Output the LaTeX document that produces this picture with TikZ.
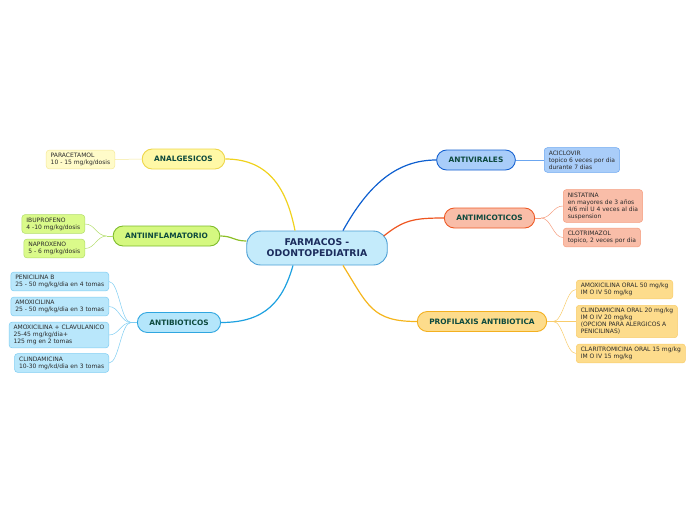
\documentclass[tikz,border=0pt]{standalone}
\usepackage{fontspec}
\setmainfont{DejaVu Sans}
\usetikzlibrary{calc}

% colores del mapa
\definecolor{txtRama}{HTML}{0D4A3E}
\definecolor{txtCentro}{HTML}{1A2B5C}
\definecolor{txtHoja}{HTML}{2A2A2A}
\definecolor{cenF}{HTML}{C4EBFB}\definecolor{cenB}{HTML}{4B9FD5}
\definecolor{amaF}{HTML}{FFF8A6}\definecolor{amaB}{HTML}{EED64A}\definecolor{amaL}{HTML}{F0D21E}
\definecolor{amaH}{HTML}{FFFBC9}\definecolor{amaHB}{HTML}{F5E99A}
\definecolor{verF}{HTML}{D5F880}\definecolor{verB}{HTML}{7DBB2A}\definecolor{verL}{HTML}{8CBF26}
\definecolor{verH}{HTML}{DAFA8A}\definecolor{verHB}{HTML}{B2DD6A}
\definecolor{celF}{HTML}{B4E6FB}\definecolor{celB}{HTML}{2FA6E0}\definecolor{celL}{HTML}{1EA1E0}
\definecolor{celH}{HTML}{B9E7FB}\definecolor{celHB}{HTML}{7ECDF2}
\definecolor{azuF}{HTML}{A9CDF9}\definecolor{azuB}{HTML}{1460D0}\definecolor{azuL}{HTML}{0E5FD0}
\definecolor{azuH}{HTML}{A9CDF9}\definecolor{azuHB}{HTML}{6BA6F0}
\definecolor{rojF}{HTML}{F9BDA8}\definecolor{rojB}{HTML}{EE5A26}\definecolor{rojL}{HTML}{EE5520}
\definecolor{rojH}{HTML}{F9BDA8}\definecolor{rojHB}{HTML}{F59C7E}
\definecolor{narF}{HTML}{FDDC8C}\definecolor{narB}{HTML}{F3B020}\definecolor{narL}{HTML}{F5B51C}
\definecolor{narH}{HTML}{FDDC8C}\definecolor{narHB}{HTML}{F8CC6C}

\begin{document}
\begin{tikzpicture}[x=1pt,y=-1pt,
    centro/.style={draw=cenB,fill=cenF,line width=0.9pt,rounded corners=14pt,
      minimum height=34pt,inner xsep=20pt,align=center,text=txtCentro,
      font=\fontsize{9.3}{11}\selectfont\bfseries},
    rama/.style 2 args={draw=#1,fill=#2,line width=0.9pt,rounded corners=10pt,
      minimum height=20pt,inner xsep=12pt,text=txtRama,
      font=\fontsize{7.4}{9}\selectfont\bfseries},
    hoja/.style 2 args={draw=#1,fill=#2,line width=0.5pt,rounded corners=3pt,
      inner xsep=4.5pt,inner ysep=3pt,align=left,text=txtHoja,
      font=\fontsize{6}{7}\selectfont},
    conector/.style={draw=#1,line width=1.2pt},
    hilo/.style={draw=#1,line width=0.5pt}]

    \useasboundingbox (0,0) rectangle (696,520);

    % nodo central
    \node[centro] (farm) at (317,248) {FARMACOS -\\ODONTOPEDIATRIA};

    % ramas principales
    \node[rama={amaB}{amaF}] (analg) at (183.5,159) {ANALGESICOS};
    \node[rama={verB}{verF}] (antinf) at (166.5,236) {ANTIINFLAMATORIO};
    \node[rama={celB}{celF}] (antib) at (179,322.5) {ANTIBIOTICOS};
    \node[rama={azuB}{azuF}] (antiv) at (476,160) {ANTIVIRALES};
    \node[rama={rojB}{rojF}] (antim) at (489.5,218) {ANTIMICOTICOS};
    \node[rama={narB}{narF}] (profi) at (482,321.5) {PROFILAXIS ANTIBIOTICA};

    % hojas de la izquierda
    \node[hoja={amaHB}{amaH},anchor=east] (parac) at (115,159.5) {PARACETAMOL\\10 - 15 mg/kg/dosis};
    \node[hoja={verHB}{verH},anchor=east] (ibup) at (85,224) {IBUPROFENO\\4 -10 mg/kg/dosis};
    \node[hoja={verHB}{verH},anchor=east] (naprox) at (85,248.5) {NAPROXENO\\5 - 6 mg/kg/dosis};
    \node[hoja={celHB}{celH},anchor=east] (penic) at (109,281.5) {PENICILINA B\\25 - 50 mg/kg/dia en 4 tomas};
    \node[hoja={celHB}{celH},anchor=east] (amox) at (109,306.5) {AMOXICILINA\\25 - 50 mg/kg/dia en 3 tomas};
    \node[hoja={celHB}{celH},anchor=east] (amoxcl) at (109,335) {AMOXICILINA + CLAVULANICO\\25-45 mg/kg/dia+\\125 mg en 2 tomas};
    \node[hoja={celHB}{celH},anchor=east] (clind) at (109,363) {CLINDAMICINA\\10-30 mg/kd/dia en 3 tomas};

    % hojas de la derecha
    \node[hoja={azuHB}{azuH},anchor=west] (aciclo) at (544,160) {ACICLOVIR\\topico 6 veces por dia\\durante 7 dias};
    \node[hoja={rojHB}{rojH},anchor=west] (nista) at (563,206) {NISTATINA\\en mayores de 3 años\\4/6 mil U 4 veces al dia\\suspension};
    \node[hoja={rojHB}{rojH},anchor=west] (clotri) at (563,237.5) {CLOTRIMAZOL\\topico, 2 veces por dia};
    \node[hoja={narHB}{narH},anchor=west] (amoxor) at (576,289.5) {AMOXICILINA ORAL 50 mg/kg\\IM O IV 50 mg/kg};
    \node[hoja={narHB}{narH},anchor=west] (clindor) at (576,321.5) {CLINDAMICINA ORAL 20 mg/kg\\IM O IV 20 mg/kg\\(OPCION PARA ALERGICOS A\\PENICILINAS)};
    \node[hoja={narHB}{narH},anchor=west] (clarit) at (576,353.5) {CLARITROMICINA ORAL 15 mg/kg\\IM O IV 15 mg/kg};

    % conectores del centro a las ramas
    \draw[conector=amaL] ([xshift=-22pt]farm.north) .. controls +(-8,-40) and +(45,0) .. (analg.east);
    \draw[conector=verL] ([yshift=7pt]farm.west) .. controls +(-12,0) and +(12,0) .. (antinf.east);
    \draw[conector=celL] ([xshift=-24pt]farm.south) .. controls +(-10,35) and +(45,0) .. (antib.east);
    \draw[conector=azuL] ([xshift=26pt]farm.north) .. controls +(25,-45) and +(-40,0) .. (antiv.west);
    \draw[conector=rojL] ([xshift=-4pt,yshift=12pt]farm.east) .. controls +(20,-16) and +(-30,0) .. (antim.west);
    \draw[conector=narL] ([xshift=26pt]farm.south) .. controls +(25,40) and +(-45,0) .. (profi.west);

    % conectores de las ramas a las hojas
    \draw[hilo=amaHB] (analg.west) -- (parac.east);
    \draw[hilo=azuHB] (antiv.east) -- (aciclo.west);

    \coordinate (jinf) at ([xshift=-6pt]antinf.west);
    \draw[hilo=verHB] (antinf.west) -- (jinf);
    \foreach \h in {ibup,naprox}
        \draw[hilo=verHB] (jinf) .. controls +(-10,0) and +(10,0) .. (\h.east);

    \coordinate (jantib) at ([xshift=-6pt]antib.west);
    \draw[hilo=celHB] (antib.west) -- (jantib);
    \foreach \h in {penic,amox,amoxcl,clind}
        \draw[hilo=celHB] (jantib) .. controls +(-10,0) and +(10,0) .. (\h.east);

    \coordinate (jantim) at ([xshift=6pt]antim.east);
    \draw[hilo=rojHB] (antim.east) -- (jantim);
    \foreach \h in {nista,clotri}
        \draw[hilo=rojHB] (jantim) .. controls +(10,0) and +(-10,0) .. (\h.west);

    \coordinate (jprofi) at ([xshift=6pt]profi.east);
    \draw[hilo=narHB] (profi.east) -- (jprofi);
    \foreach \h in {amoxor,clindor,clarit}
        \draw[hilo=narHB] (jprofi) .. controls +(10,0) and +(-10,0) .. (\h.west);

\end{tikzpicture}
\end{document}
